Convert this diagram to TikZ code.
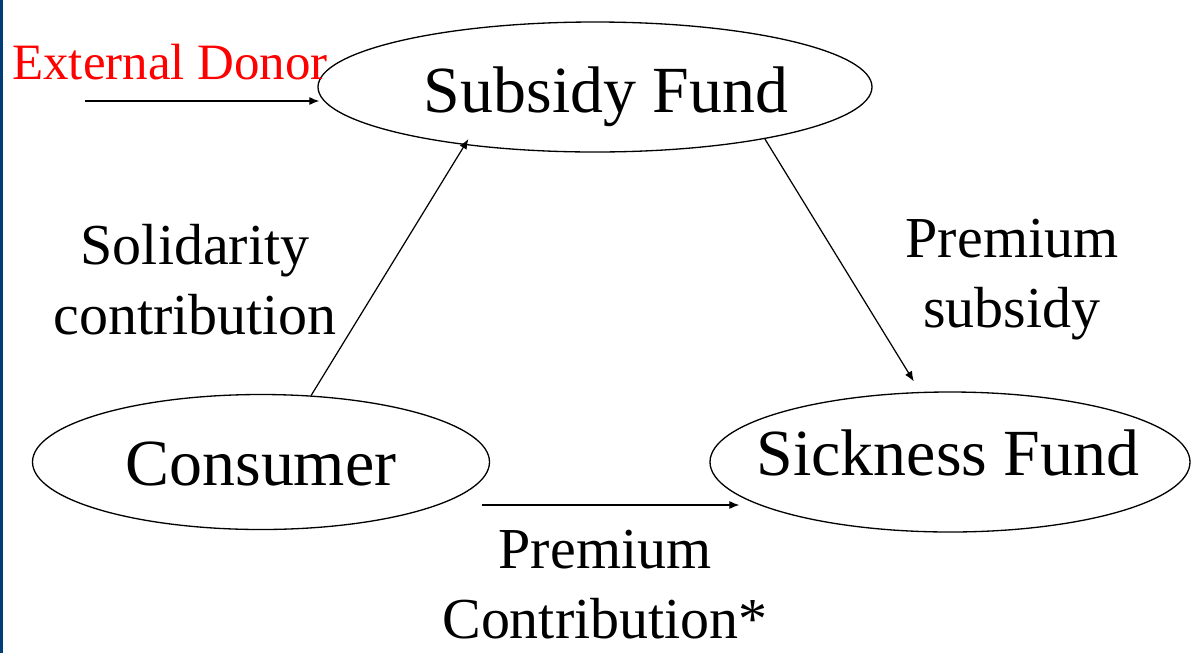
\documentclass[tikz,border=0pt]{standalone}
\usepackage{fontspec}
\setmainfont{Liberation Serif}
\usetikzlibrary{arrows.meta,shapes.geometric}
\definecolor{slideblue}{RGB}{0,62,120}

\begin{document}
\begin{tikzpicture}[x=0.02cm, y=-0.02cm,
	fund/.style={ellipse, draw, line width=0.75pt, inner sep=0pt},
	fundtext/.style={anchor=base, inner sep=0pt, font=\fontsize{37.5}{45}\selectfont},
	flowlabel/.style={align=center, inner sep=0pt, font=\fontsize{33}{39.8}\selectfont},
	flow/.style={-{Latex[length=5.7pt,width=4.6pt]}, line width=0.7pt}]
	\useasboundingbox (0,0) rectangle (1193,653);
	\fill[slideblue] (0,0) rectangle (3,653);
	% Funds and consumer
	\node[fund, minimum width=554*0.02cm, minimum height=130*0.02cm] (subsidy) at (595,87) {};
	\node[fund, minimum width=457*0.02cm, minimum height=135*0.02cm] (consumer) at (261,462) {};
	\node[fund, minimum width=480*0.02cm, minimum height=140*0.02cm] (sickness) at (950,462) {};
	\node[fundtext] (subsidytext) at (606,112) {Subsidy Fund};
	\node[fundtext] (consumertext) at (261,485) {Consumer};
	\node[fundtext] (sicknesstext) at (948,475) {Sickness Fund};
	% Labels
	\node[flowlabel] (solidarity) at (195,280) {Solidarity\\contribution};
	\node[flowlabel] (premsub) at (1012,280) {Premium\\subsidy};
	\node[flowlabel] (premcon) at (605,585) {Premium\\Contribution*};
	\node[red, font=\fontsize{29}{35}\selectfont] (donor) at (170,62) {External Donor};
	\coordinate (donorin) at (85,101);
	% Flows
	\draw[flow] (donorin) -- ([shift={(2,14)}]subsidy.west);
	\draw[flow, shorten >=-4pt] (consumer.53) -- (subsidy.204);
	\draw[flow, shorten >=7pt] (subsidy.-17) -- (sickness.113);
	\draw[flow] ([shift={(-8,43)}]consumer.east) -- ([shift={(30,43)}]sickness.west);
\end{tikzpicture}
\end{document}
